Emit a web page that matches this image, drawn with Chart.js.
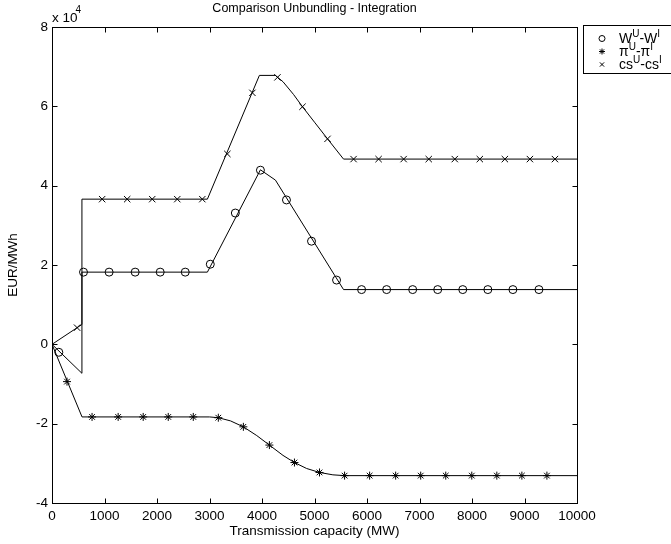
<!DOCTYPE html>
<html><head><meta charset="utf-8">
<script src="https://cdn.jsdelivr.net/npm/chart.js@4/dist/chart.umd.min.js"></script>
<style>html,body{margin:0;padding:0;background:#fff;overflow:hidden}#wrap{width:671px;height:544px;position:relative}</style>
</head><body><div id="wrap"><canvas id="c" width="671" height="544"></canvas></div>
<script>
// ---- data (EUR/MWh, real units; axis shown in units of 10^4) ----
const titleText = 'Comparison Unbundling - Integration';
const xTitle = 'Transmission capacity (MW)';
const yTitle = 'EUR/MWh';
const xTickValues = [0,1000,2000,3000,4000,5000,6000,7000,8000,9000,10000];
const yTickValues = [-40000,-20000,0,20000,40000,60000,80000];
const yMultiplierExp = '4';
const seriesNames = ['W^U-W^I', '\u03c0^U-\u03c0^I', 'cs^U-cs^I'];

// W^U - W^I (circles)
const wLineX = [0, 570, 570, 2960, 3970, 4256, 5553, 10000];
const wLineY = [0, -7300, 18200, 18200, 44000, 41400, 13800, 13800];
const wMarkX = [130, 600, 1088, 1584, 2061, 2538, 3015, 3492, 3970, 4466, 4943, 5420, 5897, 6374, 6870, 7347, 7824, 8302, 8779, 9275];
const wMarkY = [-2000, 18200, 18200, 18200, 18200, 18200, 20200, 33100, 43900, 36400, 26000, 16200, 13800, 13800, 13800, 13800, 13800, 13800, 13800, 13800];

// pi^U - pi^I (stars)
const piLineX = [0, 572, 3000, 3168, 3400, 3645, 3900, 4141, 4400, 4618, 4850, 5095, 5350, 5573, 10000];
const piLineY = [0, -18300, -18300, -18500, -19300, -20800, -23000, -25400, -28000, -29800, -31300, -32300, -32900, -33100, -33100];
const piMarkX = [286, 763, 1260, 1737, 2214, 2691, 3168, 3645, 4141, 4618, 5095, 5573, 6050, 6546, 7023, 7500, 7996, 8473, 8950, 9427];
const piMarkY = [-9400, -18300, -18300, -18300, -18300, -18300, -18500, -20800, -25400, -29800, -32300, -33100, -33100, -33100, -33100, -33100, -33100, -33100, -33100, -33100];

// cs^U - cs^I (x markers)
const csLineX = [0, 570, 570, 2960, 3950, 4256, 4400, 4600, 4771, 5000, 5248, 5553, 10000];
const csLineY = [0, 5000, 36600, 36600, 67800, 67800, 66200, 63000, 59900, 56000, 51800, 46700, 46700];
const csMarkX = [478, 955, 1432, 1909, 2386, 2863, 3340, 3817, 4294, 4771, 5248, 5744, 6221, 6698, 7176, 7672, 8149, 8626, 9103, 9580];
const csMarkY = [4200, 36600, 36600, 36600, 36600, 36600, 48000, 63400, 67300, 59900, 51800, 46700, 46700, 46700, 46700, 46700, 46700, 46700, 46700, 46700];

// ---- build ----
const pts = (xs, ys) => xs.map((v, i) => ({x: v, y: ys[i]}));
const FONT = '"Liberation Sans", Arial, Helvetica, sans-serif';
const styles = ['circle', 'star', 'crossRot'];

function lineDs(xs, ys) {
  return {data: pts(xs, ys), showLine: true, borderColor: '#000', borderWidth: 1, pointRadius: 0, fill: false, tension: 0, order: 2, isLine: true};
}
function markDs(label, xs, ys, style, r) {
  return {label, data: pts(xs, ys), showLine: false, pointStyle: style, pointRadius: r, pointBorderColor: '#000', pointBackgroundColor: 'rgba(0,0,0,0)', pointBorderWidth: 1, borderColor: '#000', order: 1};
}

function drawMarker(ctx, style, x, y, r) {
  ctx.beginPath();
  if (style === 'circle') { ctx.arc(x, y, r, 0, Math.PI * 2); }
  else {
    const d = r * Math.SQRT1_2;
    if (style === 'star') { ctx.moveTo(x, y - r); ctx.lineTo(x, y + r); ctx.moveTo(x - r, y); ctx.lineTo(x + r, y); }
    ctx.moveTo(x - d, y - d); ctx.lineTo(x + d, y + d); ctx.moveTo(x - d, y + d); ctx.lineTo(x + d, y - d);
  }
  ctx.stroke();
}
function drawRich(ctx, str, x, y, size, supSize) {
  // '^X' marks a one-char superscript
  let cx = x;
  for (let i = 0; i < str.length; i++) {
    let ch = str[i], sup = false;
    if (ch === '^') { sup = true; ch = str[++i]; }
    ctx.font = (sup ? supSize : size) + 'px ' + FONT;
    ctx.fillText(ch, cx, sup ? y - 5 : y);
    cx += ctx.measureText(ch).width;
  }
}

const overlay = {
  id: 'overlay',
  afterDraw(chart) {
    const {ctx, chartArea: a, scales: {x, y}} = chart;
    ctx.save();
    ctx.strokeStyle = '#000'; ctx.fillStyle = '#000'; ctx.lineWidth = 1;
    const L = Math.round(a.left) + 0.5, R = Math.round(a.right) + 0.5, T = Math.round(a.top) + 0.5, B = Math.round(a.bottom) + 0.5;
    ctx.strokeRect(L, T, R - L, B - T);
    ctx.beginPath();
    x.ticks.forEach(t => { const p = Math.round(x.getPixelForValue(t.value)) + 0.5; ctx.moveTo(p, B); ctx.lineTo(p, B - 5); ctx.moveTo(p, T); ctx.lineTo(p, T + 5); });
    y.ticks.forEach(t => { const p = Math.round(y.getPixelForValue(t.value)) + 0.5; ctx.moveTo(L, p); ctx.lineTo(L + 5, p); ctx.moveTo(R, p); ctx.lineTo(R - 5, p); });
    ctx.stroke();
    // title
    ctx.textBaseline = 'middle'; ctx.textAlign = 'center';
    ctx.font = '12.5px ' + FONT;
    ctx.fillText(titleText, (a.left + a.right) / 2, 9);
    // multiplier
    ctx.textAlign = 'left'; ctx.textBaseline = 'alphabetic';
    ctx.font = '13.5px ' + FONT;
    ctx.fillText('x 10', a.left, 22);
    const w = ctx.measureText('x 10').width;
    ctx.font = '10px ' + FONT;
    ctx.fillText(yMultiplierExp, a.left + w - 2, 13);
    // legend
    const bx = 583.5, by = 25.5;
    ctx.strokeRect(bx, by, 120, 48);
    const marks = chart.data.datasets.filter(d => !d.isLine);
    marks.forEach((d, i) => {
      const ly = by + 13 + i * 13;
      drawMarker(ctx, d.pointStyle, 602, ly, 3);
      ctx.textBaseline = 'middle';
      drawRich(ctx, d.label, 619, ly + 1, 14, 10);
    });
    ctx.restore();
  }
};

new Chart(document.getElementById('c'), {
  type: 'scatter',
  data: {
    datasets: [
      lineDs(wLineX, wLineY), lineDs(piLineX, piLineY), lineDs(csLineX, csLineY),
      markDs(seriesNames[0], wMarkX, wMarkY, styles[0], 4),
      markDs(seriesNames[1], piMarkX, piMarkY, styles[1], 4),
      markDs(seriesNames[2], csMarkX, csMarkY, styles[2], 4.5)
    ]
  },
  options: {
    responsive: false, animation: false, events: [],
    layout: {padding: {top: 27, right: 94, left: 0, bottom: 0}},
    plugins: {legend: {display: false}, tooltip: {enabled: false}, title: {display: false}},
    scales: {
      x: {
        type: 'linear', min: 0, max: 10000,
        afterBuildTicks: s => { s.ticks = xTickValues.map(v => ({value: v})); },
        afterFit: s => { s.height = 41; },
        grid: {display: false, drawTicks: false}, border: {display: false},
        ticks: {autoSkip: false, maxRotation: 0, padding: 5, color: '#000', font: {family: FONT, size: 13.5}, callback: v => String(v)},
        title: {display: true, text: xTitle, color: '#000', font: {family: FONT, size: 13.5}, padding: {top: 0, bottom: 5}}
      },
      y: {
        type: 'linear', min: -40000, max: 80000,
        afterBuildTicks: s => { s.ticks = yTickValues.map(v => ({value: v})); },
        afterFit: s => { s.width = 52; },
        grid: {display: false, drawTicks: false}, border: {display: false},
        ticks: {padding: 4, color: '#000', font: {family: FONT, size: 13.5}, callback: v => String(v / 10000)},
        title: {display: true, text: yTitle, color: '#000', font: {family: FONT, size: 13.5}, padding: {top: 5, bottom: 0}}
      }
    }
  },
  plugins: [overlay]
});
</script>
</body></html>
